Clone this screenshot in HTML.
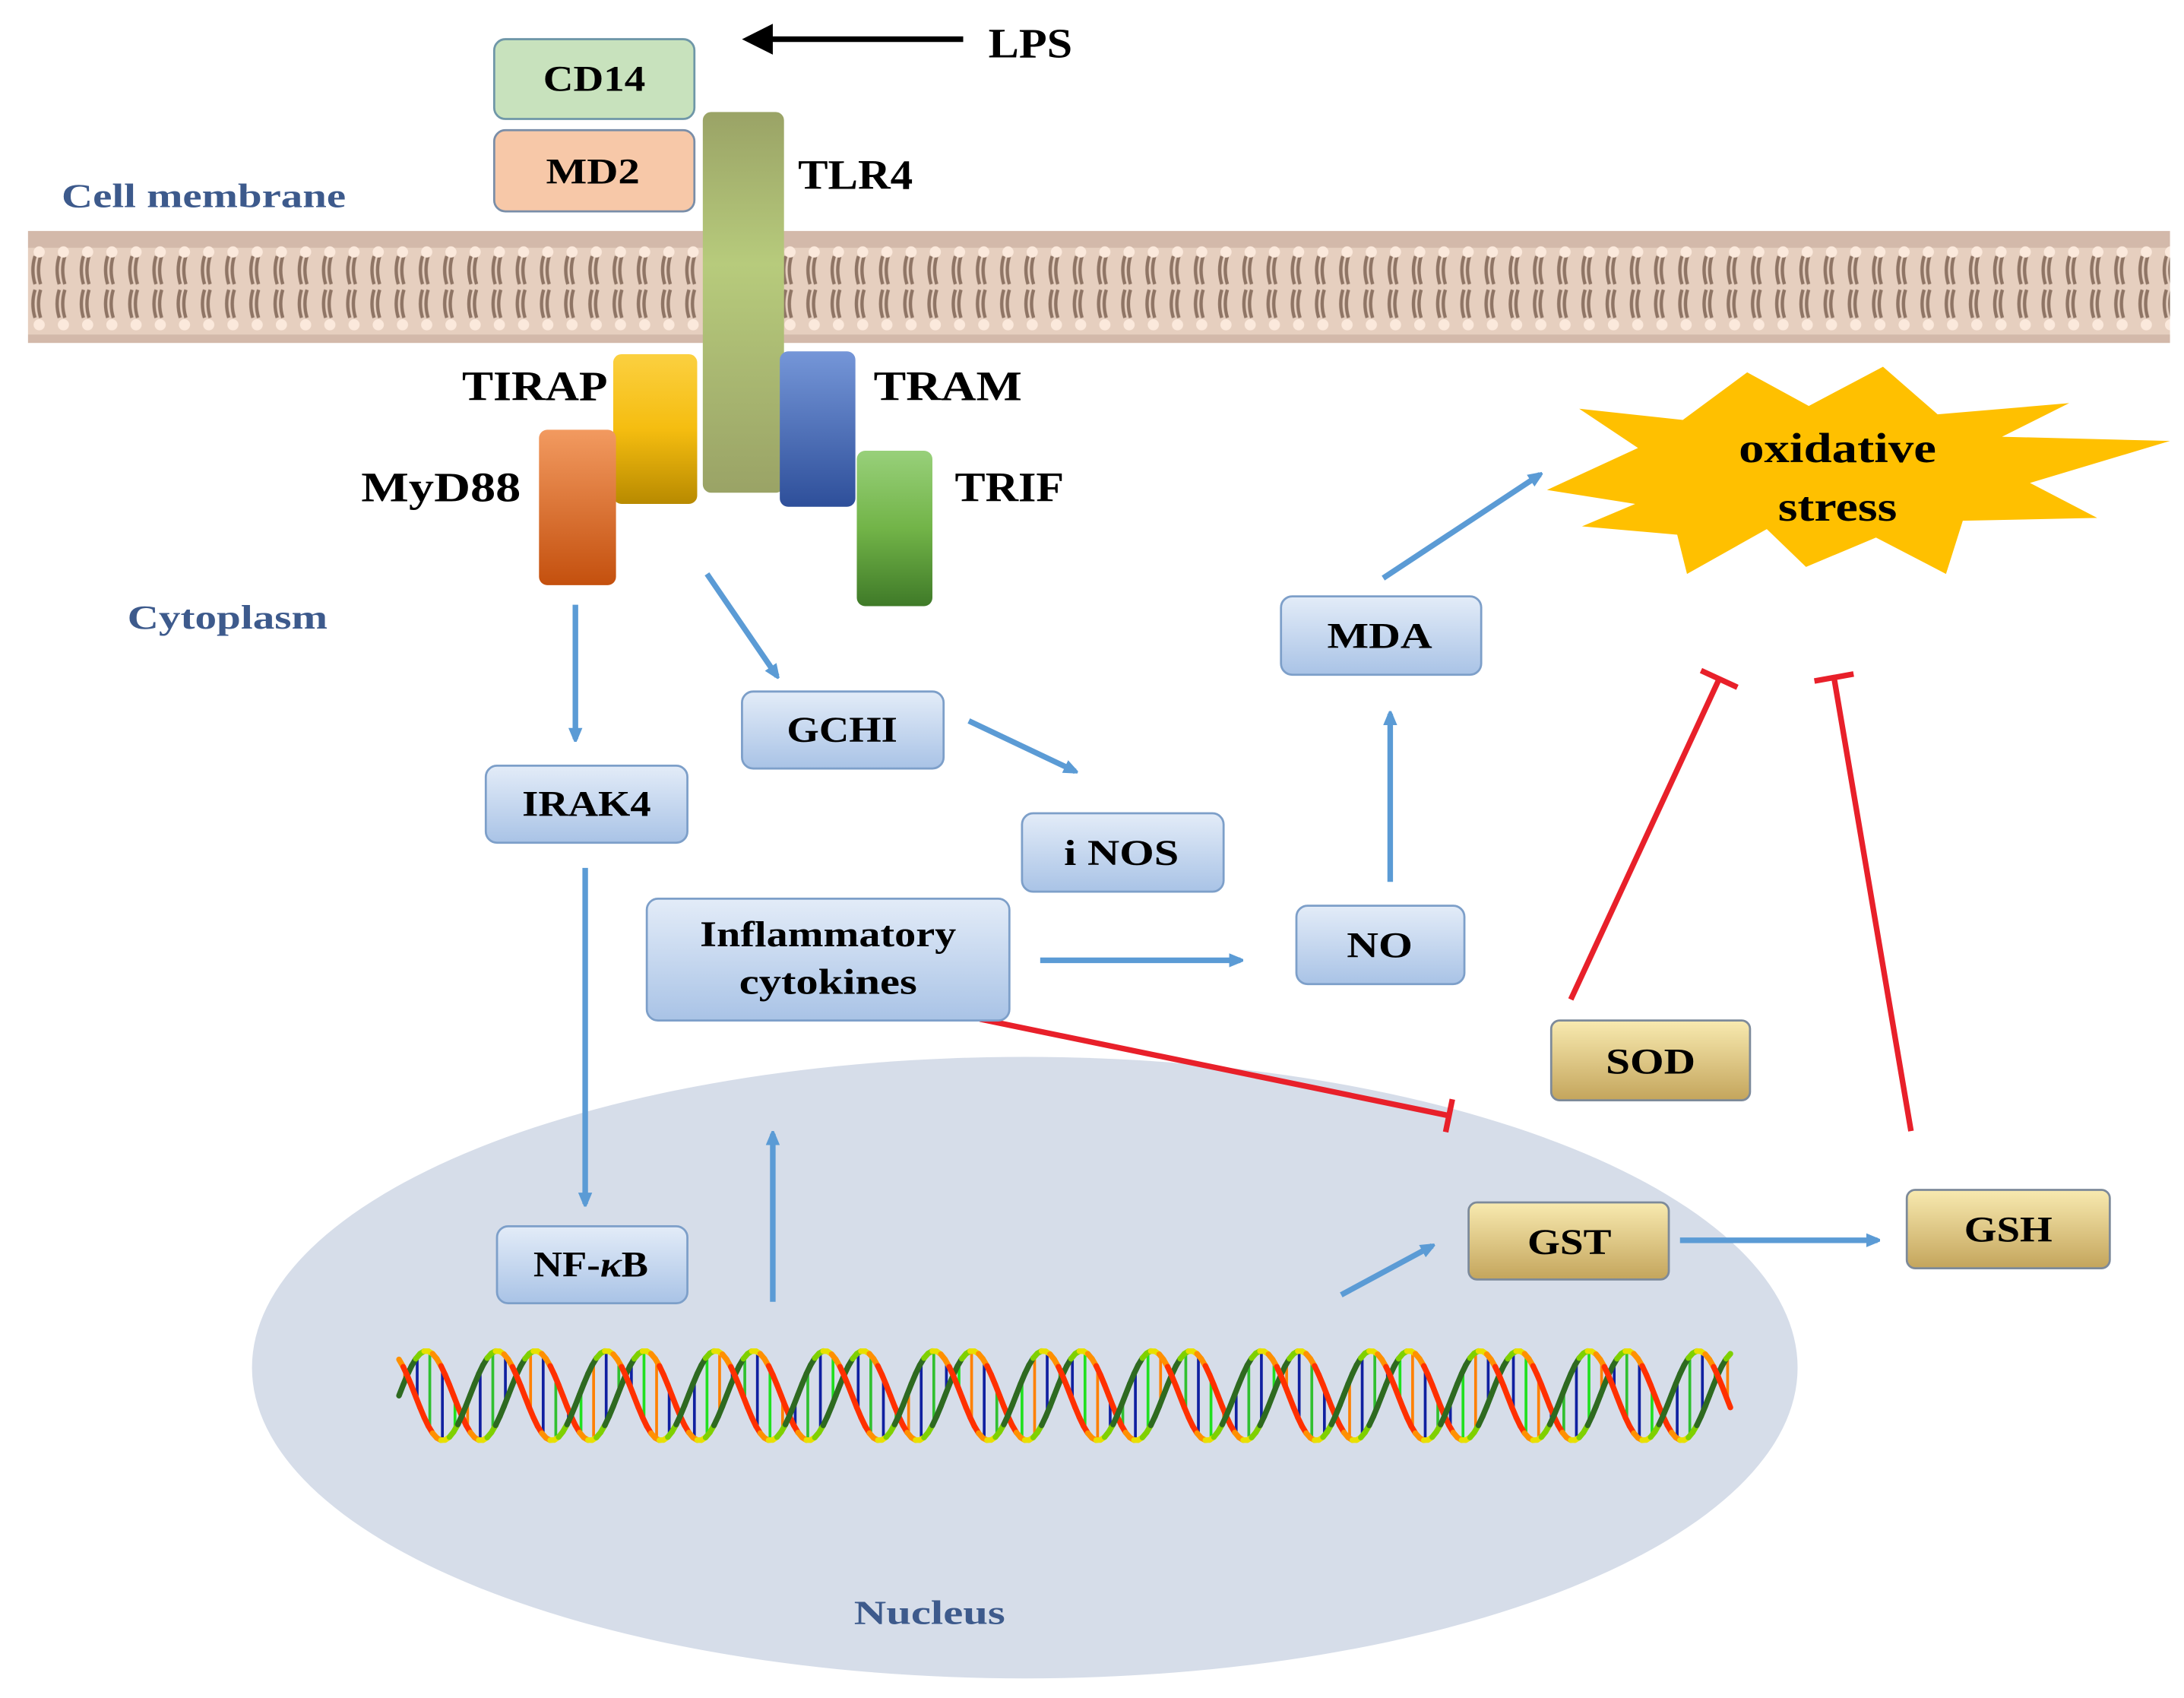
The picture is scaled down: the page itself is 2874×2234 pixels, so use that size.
<!DOCTYPE html>
<html><head><meta charset="utf-8"><style>
html,body{margin:0;padding:0;background:#fff;}
svg{display:block;}
text{font-family:"Liberation Serif",serif;font-weight:bold;}
</style></head><body>
<svg id="s" width="2874" height="2234" viewBox="0 0 1560 1213" preserveAspectRatio="none" xmlns="http://www.w3.org/2000/svg">
<defs>
<linearGradient id="gb" x1="0" y1="0" x2="0" y2="1"><stop offset="0" stop-color="#e3ecf8"/><stop offset="1" stop-color="#a9c3e6"/></linearGradient>
<linearGradient id="gt" x1="0" y1="0" x2="0" y2="1"><stop offset="0" stop-color="#f8eab0"/><stop offset="1" stop-color="#c4a55c"/></linearGradient>
<linearGradient id="gtlr" x1="0" y1="0" x2="0" y2="1"><stop offset="0" stop-color="#9aa366"/><stop offset="0.4" stop-color="#b7cb7c"/><stop offset="1" stop-color="#9aa366"/></linearGradient>
<linearGradient id="gy" x1="0" y1="0" x2="0" y2="1"><stop offset="0" stop-color="#fbd040"/><stop offset="0.5" stop-color="#f5bd10"/><stop offset="1" stop-color="#b88a00"/></linearGradient>
<linearGradient id="go" x1="0" y1="0" x2="0" y2="1"><stop offset="0" stop-color="#f29a60"/><stop offset="1" stop-color="#c4500e"/></linearGradient>
<linearGradient id="gbl" x1="0" y1="0" x2="0" y2="1"><stop offset="0" stop-color="#7596d8"/><stop offset="1" stop-color="#2e4f9a"/></linearGradient>
<linearGradient id="gg" x1="0" y1="0" x2="0" y2="1"><stop offset="0" stop-color="#98d07a"/><stop offset="0.5" stop-color="#72b448"/><stop offset="1" stop-color="#3f7a28"/></linearGradient>
<pattern id="lip" x="20" y="165" width="17.3" height="80" patternUnits="userSpaceOnUse">
<rect width="17.3" height="80" fill="#e6cfbf"/>
<rect width="17.3" height="12" fill="#d3b9aa"/>
<path d="M5 18 q-3 10 0 20 M9 18 q-3 10 0 20 M5 42 q-3 10 0 20 M9 42 q-3 10 0 20" stroke="#8f7565" stroke-width="2.4" fill="none"/>
<circle cx="8" cy="15" r="4" fill="#fbe9dc"/>
<circle cx="8" cy="67" r="4" fill="#fbe9dc"/>
<rect y="74" width="17.3" height="6" fill="#d3b9aa"/>
</pattern>
<marker id="ab" markerWidth="10" markerHeight="10" refX="8" refY="5" orient="auto" markerUnits="userSpaceOnUse"><path d="M0,0 L12,5 L0,10 Z" fill="#5b9bd5"/></marker>
</defs>

<ellipse cx="732" cy="977" rx="552" ry="222" fill="#d6dde9"/>
<text x="610" y="1160" font-size="24" fill="#3d5a8c" textLength="108" lengthAdjust="spacingAndGlyphs">Nucleus</text>

<rect x="20" y="165" width="1530" height="80" fill="url(#lip)"/>

<line x1="688" y1="28" x2="548" y2="28" stroke="#000" stroke-width="4"/>
<path d="M530 28 L552 17 L552 39 Z" fill="#000"/>
<text x="706" y="41" font-size="30" textLength="60" lengthAdjust="spacingAndGlyphs">LPS</text>

<rect x="353" y="28" width="143" height="57" rx="8" fill="#c8e2bd" stroke="#6f97a8" stroke-width="1.5"/>
<text x="388" y="65" font-size="26" textLength="73" lengthAdjust="spacingAndGlyphs">CD14</text>
<rect x="353" y="93" width="143" height="58" rx="8" fill="#f7c8a8" stroke="#7a8ea8" stroke-width="1.5"/>
<text x="390" y="131" font-size="26" textLength="67" lengthAdjust="spacingAndGlyphs">MD2</text>

<text x="44" y="148" font-size="24" fill="#3d5a8c" textLength="203" lengthAdjust="spacingAndGlyphs">Cell membrane</text>
<text x="91" y="449" font-size="24" fill="#3d5a8c" textLength="143" lengthAdjust="spacingAndGlyphs">Cytoplasm</text>

<rect x="502" y="80" width="58" height="272" rx="6" fill="url(#gtlr)"/>
<text x="570" y="135" font-size="30" textLength="82" lengthAdjust="spacingAndGlyphs">TLR4</text>
<rect x="438" y="253" width="60" height="107" rx="6" fill="url(#gy)"/>
<text x="330" y="286" font-size="30" textLength="104" lengthAdjust="spacingAndGlyphs">TIRAP</text>
<rect x="385" y="307" width="55" height="111" rx="6" fill="url(#go)"/>
<text x="258" y="358" font-size="30" textLength="114" lengthAdjust="spacingAndGlyphs">MyD88</text>
<rect x="557" y="251" width="54" height="111" rx="6" fill="url(#gbl)"/>
<text x="624" y="286" font-size="30" textLength="106" lengthAdjust="spacingAndGlyphs">TRAM</text>
<rect x="612" y="322" width="54" height="111" rx="6" fill="url(#gg)"/>
<text x="682" y="358" font-size="30" textLength="78" lengthAdjust="spacingAndGlyphs">TRIF</text>

<polygon points="1105,350 1170,320 1128,292 1202,300 1248,266 1292,290 1345,262 1384,296 1478,288 1430,312 1550,315 1450,345 1498,370 1402,372 1390,410 1340,384 1290,405 1262,378 1205,410 1198,382 1130,376 1168,360" fill="#ffc000"/>
<text x="1242" y="330" font-size="30" textLength="141" lengthAdjust="spacingAndGlyphs">oxidative</text>
<text x="1270" y="372" font-size="30" textLength="85" lengthAdjust="spacingAndGlyphs">stress</text>

<g stroke="#5b9bd5" stroke-width="4" fill="none" marker-end="url(#ab)">
<line x1="411" y1="432" x2="411" y2="528"/>
<line x1="505" y1="410" x2="555" y2="483"/>
<line x1="692" y1="515" x2="768" y2="551"/>
<line x1="418" y1="620" x2="418" y2="860"/>
<line x1="552" y1="930" x2="552" y2="810"/>
<line x1="743" y1="686" x2="886" y2="686"/>
<line x1="993" y1="630" x2="993" y2="510"/>
<line x1="988" y1="413" x2="1100" y2="339"/>
<line x1="958" y1="925" x2="1023" y2="890"/>
<line x1="1200" y1="886" x2="1341" y2="886"/>
</g>

<g stroke="#e8202a" stroke-width="4" fill="none">
<line x1="700" y1="728" x2="1035" y2="797"/>
<line x1="1032.6" y1="808.7" x2="1037.4" y2="785.3"/>
<line x1="1122" y1="714" x2="1228" y2="485"/>
<line x1="1215" y1="479" x2="1241" y2="491"/>
<line x1="1365" y1="808" x2="1310" y2="484"/>
<line x1="1296" y1="486.5" x2="1324" y2="481.5"/>
</g>

<g stroke="#7d9fc9" stroke-width="1.5" fill="url(#gb)">
<rect x="530" y="494" width="144" height="55" rx="8"/>
<rect x="347" y="547" width="144" height="55" rx="8"/>
<rect x="730" y="581" width="144" height="56" rx="8"/>
<rect x="462" y="642" width="259" height="87" rx="8"/>
<rect x="926" y="647" width="120" height="56" rx="8"/>
<rect x="915" y="426" width="143" height="56" rx="8"/>
<rect x="355" y="876" width="136" height="55" rx="8"/>
</g>
<g stroke="#7d8a9a" stroke-width="1.5" fill="url(#gt)">
<rect x="1108" y="729" width="142" height="57" rx="6"/>
<rect x="1049" y="859" width="143" height="55" rx="6"/>
<rect x="1362" y="850" width="145" height="56" rx="6"/>
</g>
<g font-size="26" lengthAdjust="spacingAndGlyphs">
<text x="562" y="530" textLength="79" lengthAdjust="spacingAndGlyphs">GCHI</text>
<text x="373" y="583" textLength="92" lengthAdjust="spacingAndGlyphs">IRAK4</text>
<text x="760" y="618" textLength="82" lengthAdjust="spacingAndGlyphs">i NOS</text>
<text x="500" y="676" textLength="183" lengthAdjust="spacingAndGlyphs">Inflammatory</text>
<text x="528" y="710" textLength="127" lengthAdjust="spacingAndGlyphs">cytokines</text>
<text x="962" y="684" textLength="47" lengthAdjust="spacingAndGlyphs">NO</text>
<text x="948" y="463" textLength="75" lengthAdjust="spacingAndGlyphs">MDA</text>
<text x="381" y="912" textLength="82" lengthAdjust="spacingAndGlyphs">NF-<tspan font-style="italic">κ</tspan>B</text>
<text x="1147" y="767" textLength="64" lengthAdjust="spacingAndGlyphs">SOD</text>
<text x="1091" y="896" textLength="60" lengthAdjust="spacingAndGlyphs">GST</text>
<text x="1403" y="887" textLength="63" lengthAdjust="spacingAndGlyphs">GSH</text>
</g>

<g id="dna"></g>
</svg>
<script>
(function(){
var g=document.getElementById('dna');
var x0=285,x1=1235,yc=997,A=32,P=78;
var cols=['#ff3000','#ff9000','#e8e000','#7fd000','#2e6a20'];
var h='';
for(var x=x0+4;x<x1;x+=9){
 var t=(x-x0)/P*2*Math.PI;
 var ya=yc-A*Math.sin(t), yb=yc-A*Math.sin(t+2.2);
 var c=['#1020a0','#20e020','#ff8000','#1020a0','#30c030'][Math.floor(x/9)%5];
 h+='<line x1="'+x+'" y1="'+ya+'" x2="'+x+'" y2="'+yb+'" stroke="'+c+'" stroke-width="2"/>';
}
[0,2.2].forEach(function(ph){
 for(var x=x0;x<x1;x+=3){
  var t1=(x-x0)/P*2*Math.PI+ph,t2=(x+3-x0)/P*2*Math.PI+ph;
  var c=cols[Math.floor(((Math.cos(t1)+1)/2)*4.99)];
  h+='<line x1="'+x+'" y1="'+(yc-A*Math.sin(t1))+'" x2="'+(x+3)+'" y2="'+(yc-A*Math.sin(t2))+'" stroke="'+c+'" stroke-width="4" stroke-linecap="round"/>';
 }
});
g.innerHTML=h;
})();
</script>
</body></html>
